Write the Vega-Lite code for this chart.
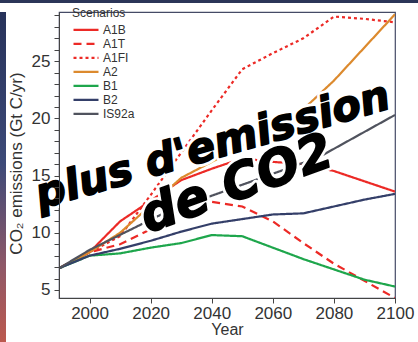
{
  "$schema": "https://vega.github.io/schema/vega-lite/v6.json",
  "background": "white",
  "padding": 0,
  "spacing": 2,
  "config": {
    "view": {"stroke": null},
    "font": "Liberation Sans",
    "legend": {
      "orient": "none",
      "legendX": 72,
      "legendY": 8,
      "padding": 0,
      "symbolType": "stroke",
      "symbolSize": 625,
      "symbolStrokeWidth": 2,
      "clipHeight": 13.7,
      "rowPadding": 0,
      "labelFontSize": 12,
      "labelColor": "#333333",
      "labelOffset": 3,
      "titleFontSize": 12,
      "titleFontWeight": "normal",
      "titleColor": "#333333",
      "titlePadding": 3
    }
  },
  "vconcat": [
    {
      "width": 418,
      "height": 3,
      "data": {"values": [{}]},
      "mark": {"type": "rect", "color": "#2b3558"},
      "encoding": {
        "x": {"value": 0}, "x2": {"value": "width"},
        "y": {"value": 0}, "y2": {"value": "height"}
      }
    },
    {
      "spacing": 0,
      "hconcat": [
        {
          "width": 6,
          "height": 337,
          "data": {"values": [{}]},
          "mark": {
            "type": "rect",
            "color": {
              "gradient": "linear", "x1": 0, "y1": 0, "x2": 0, "y2": 1,
              "stops": [
                {"offset": 0, "color": "#27325a"},
                {"offset": 0.45, "color": "#3d4a78"},
                {"offset": 0.75, "color": "#8e5868"},
                {"offset": 1, "color": "#c0594c"}
              ]
            }
          },
          "encoding": {
            "x": {"value": 0}, "x2": {"value": "width"},
            "y": {"value": 0}, "y2": {"value": "height"}
          }
        },
        {
          "width": 336,
          "height": 286,
          "view": {"stroke": "#454b66", "strokeWidth": 1.2},
          "encoding": {
            "x": {
              "field": "year",
              "type": "quantitative",
              "scale": {"domain": [1990, 2100], "nice": false, "zero": false},
              "axis": {
                "values": [2000, 2020, 2040, 2060, 2080, 2100],
                "format": "d",
                "title": "Year",
                "grid": false,
                "tickSize": 5,
                "labelFlush": false,
                "labelFontSize": 17,
                "labelPadding": 2,
                "labelColor": "#333333",
                "titleFontSize": 16,
                "titleFontWeight": "normal",
                "titleColor": "#333333",
                "titlePadding": 0,
                "domainColor": "#444444",
                "tickColor": "#444444"
              }
            },
            "y": {
              "field": "value",
              "type": "quantitative",
              "scale": {"domain": [4.3, 29.3], "nice": false, "zero": false},
              "axis": {
                "values": [5, 6, 7, 8, 9, 10, 11, 12, 13, 14, 15, 16, 17, 18, 19, 20, 21, 22, 23, 24, 25, 26, 27, 28, 29],
                "labelExpr": "datum.value % 5 === 0 ? datum.label : ''",
                "labelOverlap": false,
                "labelFontSize": 17,
                "title": "CO₂ emissions (Gt C/yr)",
                "titleY": 151,
                "grid": false,
                "zindex": 1,
                "tickSize": 5,
                "labelPadding": 4,
                "labelColor": "#333333",
                "titleFontSize": 17,
                "titleFontWeight": "normal",
                "titleColor": "#333333",
                "titlePadding": 4,
                "minExtent": 30,
                "maxExtent": 30,
                "domainColor": "#444444",
                "tickColor": "#444444"
              }
            }
          },
          "layer": [
            {
              "data": {
                "values": [
                  {"scenario": "A1B", "year": 1990, "value": 6.9},
                  {"scenario": "A1B", "year": 2000, "value": 8.3},
                  {"scenario": "A1B", "year": 2010, "value": 11.0},
                  {"scenario": "A1B", "year": 2020, "value": 12.8},
                  {"scenario": "A1B", "year": 2030, "value": 14.6},
                  {"scenario": "A1B", "year": 2040, "value": 15.6},
                  {"scenario": "A1B", "year": 2050, "value": 16.5},
                  {"scenario": "A1B", "year": 2060, "value": 16.2},
                  {"scenario": "A1B", "year": 2070, "value": 16.0},
                  {"scenario": "A1B", "year": 2080, "value": 15.4},
                  {"scenario": "A1B", "year": 2090, "value": 14.5},
                  {"scenario": "A1B", "year": 2100, "value": 13.6},
                  {"scenario": "A1T", "year": 1990, "value": 6.9},
                  {"scenario": "A1T", "year": 2000, "value": 8.3},
                  {"scenario": "A1T", "year": 2010, "value": 9.0},
                  {"scenario": "A1T", "year": 2020, "value": 10.3},
                  {"scenario": "A1T", "year": 2030, "value": 12.2},
                  {"scenario": "A1T", "year": 2040, "value": 12.7},
                  {"scenario": "A1T", "year": 2050, "value": 12.3},
                  {"scenario": "A1T", "year": 2060, "value": 11.0},
                  {"scenario": "A1T", "year": 2070, "value": 9.1},
                  {"scenario": "A1T", "year": 2080, "value": 7.3},
                  {"scenario": "A1T", "year": 2090, "value": 5.8},
                  {"scenario": "A1T", "year": 2100, "value": 4.3},
                  {"scenario": "A1FI", "year": 1990, "value": 6.9},
                  {"scenario": "A1FI", "year": 2000, "value": 8.3},
                  {"scenario": "A1FI", "year": 2010, "value": 9.7},
                  {"scenario": "A1FI", "year": 2020, "value": 13.3},
                  {"scenario": "A1FI", "year": 2030, "value": 17.0},
                  {"scenario": "A1FI", "year": 2040, "value": 20.7},
                  {"scenario": "A1FI", "year": 2050, "value": 24.3},
                  {"scenario": "A1FI", "year": 2060, "value": 25.7},
                  {"scenario": "A1FI", "year": 2070, "value": 27.0},
                  {"scenario": "A1FI", "year": 2080, "value": 28.9},
                  {"scenario": "A1FI", "year": 2090, "value": 28.7},
                  {"scenario": "A1FI", "year": 2100, "value": 28.4},
                  {"scenario": "A2", "year": 1990, "value": 6.9},
                  {"scenario": "A2", "year": 2000, "value": 8.3},
                  {"scenario": "A2", "year": 2010, "value": 10.0},
                  {"scenario": "A2", "year": 2020, "value": 12.4},
                  {"scenario": "A2", "year": 2030, "value": 14.8},
                  {"scenario": "A2", "year": 2040, "value": 16.2},
                  {"scenario": "A2", "year": 2050, "value": 17.6},
                  {"scenario": "A2", "year": 2060, "value": 19.2},
                  {"scenario": "A2", "year": 2070, "value": 20.8},
                  {"scenario": "A2", "year": 2080, "value": 23.3},
                  {"scenario": "A2", "year": 2090, "value": 26.2},
                  {"scenario": "A2", "year": 2100, "value": 29.1},
                  {"scenario": "B1", "year": 1990, "value": 6.9},
                  {"scenario": "B1", "year": 2000, "value": 8.0},
                  {"scenario": "B1", "year": 2010, "value": 8.2},
                  {"scenario": "B1", "year": 2020, "value": 8.7},
                  {"scenario": "B1", "year": 2030, "value": 9.1},
                  {"scenario": "B1", "year": 2040, "value": 9.8},
                  {"scenario": "B1", "year": 2050, "value": 9.7},
                  {"scenario": "B1", "year": 2060, "value": 8.7},
                  {"scenario": "B1", "year": 2070, "value": 7.7},
                  {"scenario": "B1", "year": 2080, "value": 6.8},
                  {"scenario": "B1", "year": 2090, "value": 5.9},
                  {"scenario": "B1", "year": 2100, "value": 5.3},
                  {"scenario": "B2", "year": 1990, "value": 6.9},
                  {"scenario": "B2", "year": 2000, "value": 8.0},
                  {"scenario": "B2", "year": 2010, "value": 8.6},
                  {"scenario": "B2", "year": 2020, "value": 9.3},
                  {"scenario": "B2", "year": 2030, "value": 10.1},
                  {"scenario": "B2", "year": 2040, "value": 10.8},
                  {"scenario": "B2", "year": 2050, "value": 11.2},
                  {"scenario": "B2", "year": 2060, "value": 11.6},
                  {"scenario": "B2", "year": 2070, "value": 11.7},
                  {"scenario": "B2", "year": 2080, "value": 12.3},
                  {"scenario": "B2", "year": 2090, "value": 12.9},
                  {"scenario": "B2", "year": 2100, "value": 13.4},
                  {"scenario": "IS92a", "year": 1990, "value": 6.9},
                  {"scenario": "IS92a", "year": 2000, "value": 8.5},
                  {"scenario": "IS92a", "year": 2025, "value": 11.8},
                  {"scenario": "IS92a", "year": 2050, "value": 14.2},
                  {"scenario": "IS92a", "year": 2075, "value": 16.6},
                  {"scenario": "IS92a", "year": 2100, "value": 20.3}
                ]
              },
              "mark": {"type": "line", "clip": true, "strokeCap": "butt"},
              "encoding": {
                "color": {
                  "field": "scenario",
                  "type": "nominal",
                  "title": "Scenarios",
                  "scale": {
                    "domain": ["A1B", "A1T", "A1FI", "A2", "B1", "B2", "IS92a"],
                    "range": ["#ec2a26", "#ec2a26", "#ec2a26", "#dc8a2e", "#1ea64c", "#343f69", "#50535e"]
                  }
                },
                "strokeDash": {
                  "field": "scenario",
                  "type": "nominal",
                  "title": "Scenarios",
                  "scale": {
                    "domain": ["A1B", "A1T", "A1FI", "A2", "B1", "B2", "IS92a"],
                    "range": [[1, 0], [8, 5], [3, 3], [1, 0], [1, 0], [1, 0], [1, 0]]
                  }
                },
                "strokeWidth": {
                  "field": "scenario",
                  "type": "nominal",
                  "title": "Scenarios",
                  "scale": {
                    "domain": ["A1B", "A1T", "A1FI", "A2", "B1", "B2", "IS92a"],
                    "range": [2.2, 2.2, 2.6, 2.2, 2.2, 2.6, 1.4]
                  }
                }
              }
            },
            {
              "data": {"name": "slogan", "values": [
                {"label": "plus d'emission", "year": 2040.3, "value": 17.6},
                {"label": "de CO2", "year": 2048.2, "value": 14.2}
              ]},
              "mark": {
                "type": "text",
                "font": "DejaVu Sans",
                "fontWeight": "bold",
                "fontStyle": "italic",
                "align": "center",
                "baseline": "middle",
                "fill": "white",
                "stroke": "white",
                "strokeWidth": 7,
                "strokeJoin": "round"
              },
              "encoding": {
                "text": {"field": "label"},
                "size": {"condition": {"test": "datum.label === 'de CO2'", "value": 50}, "value": 42},
                "angle": {"condition": {"test": "datum.label === 'de CO2'", "value": -20}, "value": -16}
              }
            },
            {
              "data": {"name": "slogan"},
              "mark": {
                "type": "text",
                "font": "DejaVu Sans",
                "fontWeight": "bold",
                "fontStyle": "italic",
                "align": "center",
                "baseline": "middle",
                "fill": "black",
                "stroke": "black",
                "strokeWidth": 1.6,
                "strokeJoin": "round"
              },
              "encoding": {
                "text": {"field": "label"},
                "size": {"condition": {"test": "datum.label === 'de CO2'", "value": 50}, "value": 42},
                "angle": {"condition": {"test": "datum.label === 'de CO2'", "value": -20}, "value": -16}
              }
            }
          ]
        }
      ]
    }
  ]
}
